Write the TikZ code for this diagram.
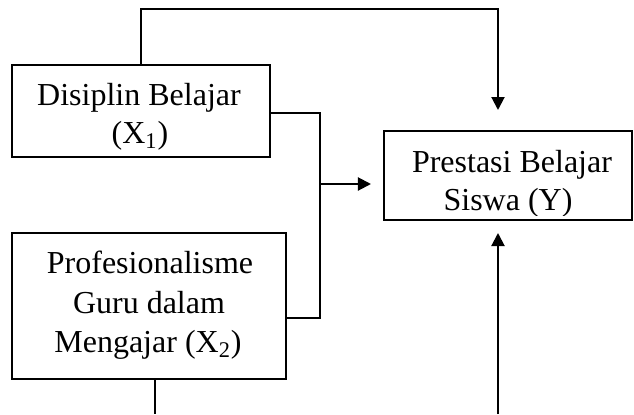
\documentclass[tikz,border=0pt]{standalone}
\usepackage{fontspec}
\setmainfont{Liberation Serif}
\usetikzlibrary{arrows.meta}
\begin{document}
\begin{tikzpicture}[x=0.5pt,y=-0.5pt,
  box/.style={draw,line width=1pt,inner sep=0pt,minimum width=#1},
  txt/.style={anchor=base,inner sep=0pt,font=\fontsize{16}{20}\selectfont},
  conn/.style={line width=1pt},
  arr/.style={line width=1pt,-{Triangle[length=6.5pt,width=6.5pt]}}]
\useasboundingbox (0,0) rectangle (634,414);
% boxes
\node[box=129pt,minimum height=46pt] (b1) at (141,111) {};
\node[box=137pt,minimum height=73pt] (b2) at (149,306) {};
\node[box=124pt,minimum height=44.5pt] (y) at (508,175.5) {};
% texts
\node[txt] (l1a) at (139,105) {Disiplin Belajar};
\node[txt] (l1b) at (140,143) {(X\textsubscript{1})};
\node[txt] (l2a) at (150,273) {Profesionalisme};
\node[txt] (l2b) at (149,313) {Guru dalam};
\node[txt] (l2c) at (148,352) {Mengajar (X\textsubscript{2})};
\begin{scope}
\clip (383,131) rectangle (633,215);
\node[txt] (l3a) at (512,172) {Prestasi Belajar};
\node[txt] (l3b) at (508,210) {Siswa (Y)};
\end{scope}
% coordinates
\coordinate (ta) at (498,110);
\coordinate (tb) at (498,233);
\coordinate (tc) at (371,184);
\coordinate (ja) at (320,113);
\coordinate (jb) at (320,318);
\coordinate (jm) at (320,184);
\coordinate (ea) at (498,414);
\coordinate (eb) at (155,414);
% connectors
\draw[arr] (b1.north) -- ++(0,-55) -| (ta);
\draw[conn] (b1.east |- ja) -- (ja) -- (jb) -- (b2.east |- jb);
\draw[arr] (jm) -- (tc);
\draw[arr] (ea) -- (tb);
\draw[conn] (b2.south -| eb) -- (eb);
\end{tikzpicture}
\end{document}
